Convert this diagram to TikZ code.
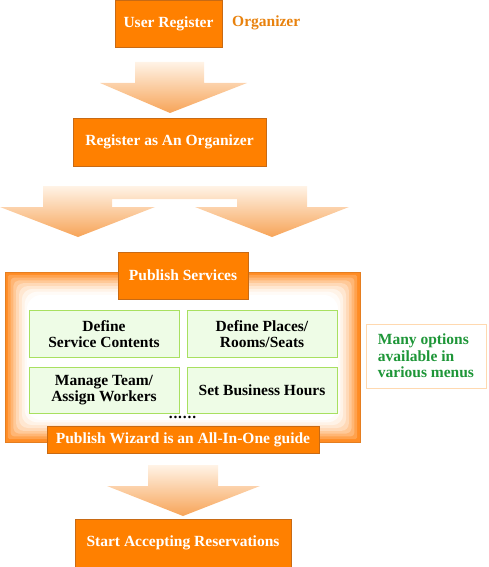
\documentclass[tikz,border=0pt]{standalone}
\usepackage{fontspec}
\setmainfont{Liberation Serif}
\definecolor{orfill}{HTML}{FF8000}
\definecolor{ordark}{HTML}{C86A14}
\definecolor{frameor}{HTML}{FF8C24}
\definecolor{arrtop}{HTML}{FFF3E6}
\definecolor{arrbot}{HTML}{F7A458}
\definecolor{grfill}{HTML}{EEFCE6}
\definecolor{grline}{HTML}{A8E060}
\definecolor{grtext}{HTML}{1E9638}
\definecolor{orgtext}{HTML}{E8820E}
\definecolor{noteline}{HTML}{FFD9B0}
\begin{document}
\begin{tikzpicture}[x=1pt,y=-1pt,
  txt/.style={font=\bfseries\fontsize{15.5}{16.5}\selectfont},
  obox/.style={txt,draw=ordark,line width=0.8pt,fill=orfill,text=white,inner sep=0pt,align=center},
  gbox/.style={txt,draw=grline,line width=0.8pt,fill=grfill,text=black,inner sep=0pt,align=center,minimum width=150,minimum height=47},
  arrshade/.style={top color=arrtop,bottom color=arrbot,draw=none}
]
\useasboundingbox (0,0) rectangle (488,567);
% top box
\node[obox,minimum width=107,minimum height=47] (user) at (168.5,23.5) {User Register};
\node[txt,text=orgtext,anchor=west,inner sep=0pt] (org) at (232,23) {Organizer};
% arrow 1
\shade[arrshade] (135,62) -- (204,62) -- (204,83) -- (247,83) -- (170,113) -- (100,83) -- (135,83) -- cycle;
\node[obox,minimum width=193,minimum height=48] (reg) at (169.5,142) {Register as An Organizer};
% split arrow
\shade[arrshade] (43,186) -- (307,186) -- (307,207) -- (349,207) -- (272,237) -- (195,207) -- (237,207) -- (237,199) -- (112,199) -- (112,207) -- (155,207) -- (78,237) -- (0,207) -- (43,207) -- cycle;
% frame
\foreach \i in {0,...,7}{
  \pgfmathsetmacro\d{\i*2.8}
  \pgfmathsetmacro\r{\i*1.8}
  \pgfmathsetmacro\c{100*(1-\i/8)^1.6}
  \fill[frameor!\c!white,rounded corners=\r pt] (5+\d,272+\d) rectangle (360-\d,442-\d);
}
\fill[white,rounded corners=14pt] (27,295) rectangle (338,420);
\draw[frameor!90!black,line width=0.6pt] (5,272) rectangle (360,442);
\node[obox,minimum width=130,minimum height=47] (pub) at (183,275.5) {Publish Services};
\node[gbox] (g1) at (104,334) {Define\\Service Contents};
\node[gbox] (g2) at (262,334) {Define Places/\\Rooms/Seats};
\node[gbox,minimum height=46] (g3) at (104,390) {Manage Team/\\Assign Workers};
\node[gbox,minimum height=46] (g4) at (262,390) {Set Business Hours};
\node[txt,inner sep=0pt] (dots) at (182.5,417) {.\kern0.8pt.\kern0.8pt.\kern0.8pt.\kern0.8pt.\kern0.8pt.};
\node[obox,minimum width=272,minimum height=27] (wiz) at (183,439.5) {Publish Wizard is an All-In-One guide};
% note
\node[txt,draw=noteline,line width=0.8pt,fill=white,text=grtext,align=left,minimum width=116,minimum height=64,inner xsep=12pt,inner ysep=0pt] (note) at (426,356) {Many options\\available in\\various menus};
% bottom arrow
\shade[arrshade] (148,465) -- (218,465) -- (218,486) -- (260,486) -- (183,516) -- (107,486) -- (148,486) -- cycle;
\node[obox,minimum width=216,minimum height=48] (start) at (183,543) {Start Accepting Reservations};
\end{tikzpicture}
\end{document}
